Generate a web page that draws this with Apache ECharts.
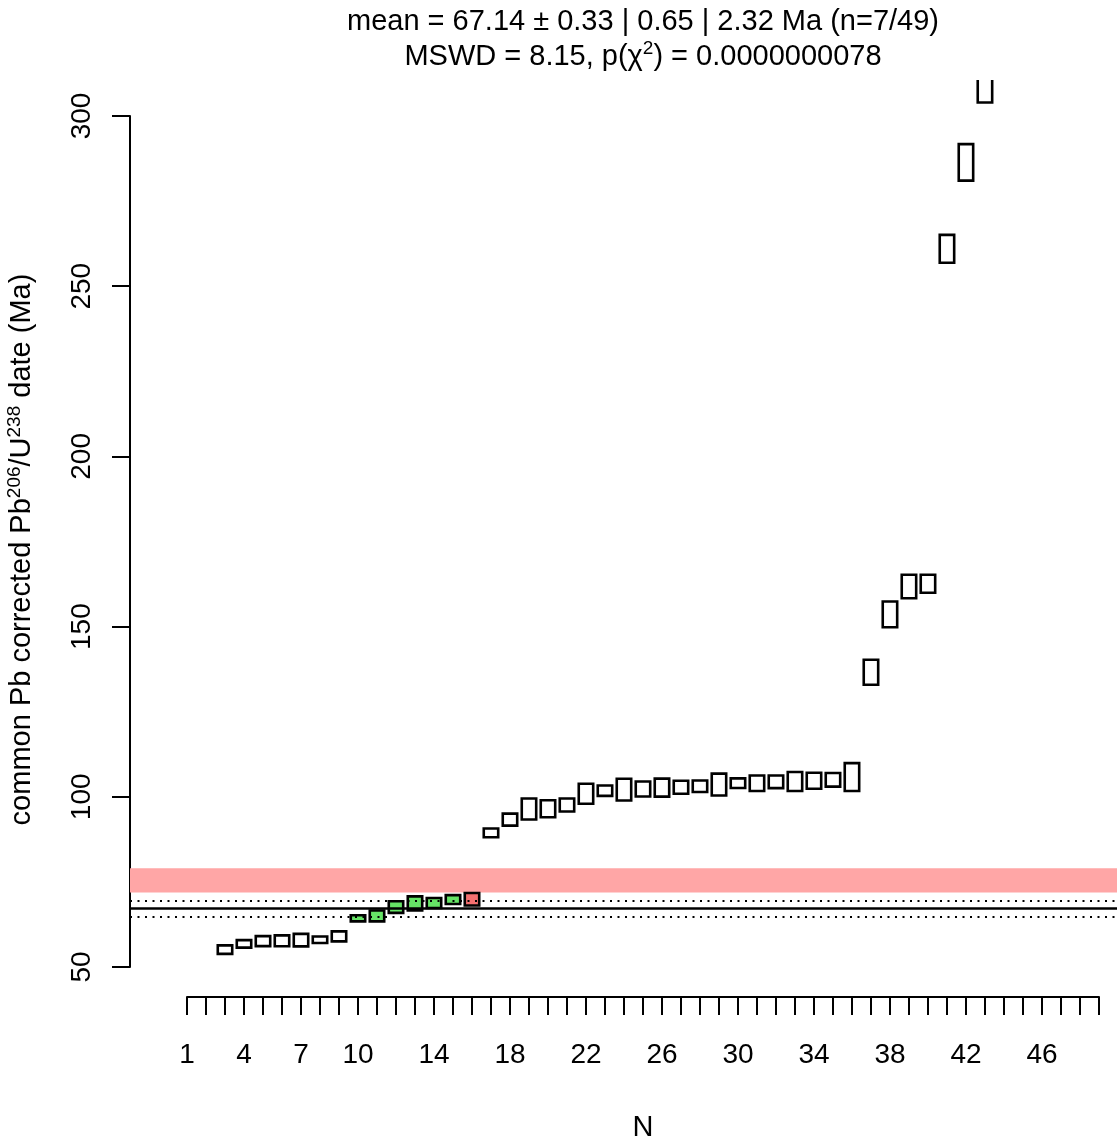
<!DOCTYPE html>
<html>
<head>
<meta charset="utf-8">
<script src="https://cdn.jsdelivr.net/npm/echarts@6/dist/echarts.min.js"></script>
<style>
html,body{margin:0;padding:0;background:#fff;}
#c{width:1117px;height:1143px;}
</style>
</head>
<body>
<div id="c"></div>
<script>
// ---- data ----
const aliquot = [3,4,5,6,7,8,9,10,11,12,13,14,15,16,17,18,19,20,21,22,23,24,25,26,27,28,29,30,31,32,33,34,35,36,37,38,39,40,41,42,43];
const dates = [55.1,56.8,57.6,57.7,57.9,58.0,59.0,64.3,65.0,67.6,68.7,68.8,69.8,69.9,
  89.4,93.3,96.4,96.5,97.6,100.9,101.8,102.1,102.3,102.7,102.8,103.1,103.6,104.0,104.0,104.4,104.5,104.7,105.0,105.8,
  136.6,153.6,161.8,162.6,261.0,286.4,312.0];
const errors = [1.25,1.1,1.47,1.6,1.84,0.95,1.47,0.9,1.6,1.7,2.06,1.47,1.3,1.84,
  1.3,1.76,3.08,2.5,1.9,2.94,1.54,3.2,2.2,2.64,1.9,1.7,3.2,1.4,2.28,1.84,2.8,2.35,2.0,4.1,
  3.67,3.8,3.45,2.64,4.1,5.36,8.0];
const acceptedIdx = [10,11,12,13,14,15];
const rejectedIdx = [16];
const meanAge = 67.14;
const meanErr = 2.32;
const bandLow = 71.9, bandHigh = 79.0;
const yTicks = [50,100,150,200,250,300];
const xTickLabels = [1,4,7,10,14,18,22,26,30,34,38,42,46];
const nTotal = 49;

const FONT = "'Liberation Sans', Arial, sans-serif";
const boxData = aliquot.map((a,i) => [a, dates[i], errors[i],
  acceptedIdx.includes(a) ? 1 : (rejectedIdx.includes(a) ? 2 : 0)]);

const chart = echarts.init(document.getElementById('c'), null, {renderer:'canvas'});
const option = {
  animation: false,
  backgroundColor: '#fff',
  grid: [
    {left:130, right:0, top:80, bottom:143},
    {left:130, width:10, top:116, bottom:176},
    {left:187, right:18, bottom:143, height:10}
  ],
  xAxis: [
    {gridIndex:0, type:'value', min:-2, max:49.95, show:false},
    {gridIndex:1, type:'value', min:0, max:1, show:false},
    {gridIndex:2, type:'value', min:1, max:nTotal, interval:1,
     axisLine:{show:true, lineStyle:{color:'#000', width:2}},
     axisTick:{show:true, length:18, lineStyle:{color:'#000', width:2}},
     splitLine:{show:false},
     axisLabel:{color:'#000', fontSize:28, fontFamily:FONT, margin:44,
       formatter: v => xTickLabels.includes(v) ? String(v) : ''},
     name:'N', nameLocation:'middle', nameGap:116,
     nameTextStyle:{color:'#000', fontSize:29, fontFamily:FONT}}
  ],
  yAxis: [
    {gridIndex:0, type:'value', min:40.3, max:310.6, show:false},
    {gridIndex:1, type:'value', min:yTicks[0], max:yTicks[yTicks.length-1], interval:50,
     axisLine:{show:true, lineStyle:{color:'#000', width:2}},
     axisTick:{show:true, length:18, lineStyle:{color:'#000', width:2}},
     splitLine:{show:false},
     axisLabel:{color:'#000', fontSize:28, fontFamily:FONT, rotate:90, margin:34},
     name:'common Pb corrected Pb{sup|206}/U{sup|238} date (Ma)',
     nameLocation:'middle', nameGap:92,
     nameTextStyle:{color:'#000', fontSize:29, fontFamily:FONT, lineHeight:33, padding:[0,16,0,0],
       rich:{sup:{fontSize:19, fontFamily:FONT, color:'#000', verticalAlign:'top', lineHeight:19}}}},
    {gridIndex:2, type:'value', min:0, max:1, show:false}
  ],
  graphic: [
    {type:'text', x:643, y:22, style:{text:'mean = 67.14 ± 0.33 | 0.65 | 2.32 Ma (n=7/49)',
      fontSize:29, fontFamily:FONT, fill:'#000', textAlign:'center', textVerticalAlign:'middle', align:'center', verticalAlign:'middle'}},
    {type:'text', x:643, y:57, style:{text:'MSWD = 8.15, p(χ{sup|2}) = 0.0000000078',
      fontSize:29, fontFamily:FONT, fill:'#000', textAlign:'center', textVerticalAlign:'middle', align:'center', verticalAlign:'middle',
      lineHeight:36, rich:{sup:{fontSize:19, fontFamily:FONT, fill:'#000', verticalAlign:'top', lineHeight:19}}}}
  ],
  series: [
    {type:'line', xAxisIndex:0, yAxisIndex:0, data:[], z:1, silent:true,
     markArea:{silent:true, itemStyle:{color:'#ffa6a6', opacity:1},
       data:[[{yAxis:bandLow},{yAxis:bandHigh}]]}},
    {type:'custom', xAxisIndex:0, yAxisIndex:0, z:2, clip:true,
     data: boxData,
     renderItem: function(params, api){
       const x = api.value(0), v = api.value(1), e = api.value(2), s = api.value(3);
       const p1 = api.coord([x-0.38, v+e]);
       const p2 = api.coord([x+0.38, v-e]);
       const fill = s === 1 ? '#66e466' : (s === 2 ? '#f47070' : 'rgba(0,0,0,0)');
       return {type:'rect', shape:{x:p1[0], y:p1[1], width:p2[0]-p1[0], height:p2[1]-p1[1]},
         style:{fill:fill, stroke:'#000', lineWidth:2.6}};
     }},
    {type:'line', xAxisIndex:0, yAxisIndex:0, data:[], z:3, silent:true,
     markLine:{silent:true, symbol:['none','none'], label:{show:false},
       data:[
         {yAxis:meanAge, lineStyle:{color:'#000', width:2.5, type:'solid'}},
         {yAxis:meanAge+meanErr, lineStyle:{color:'#000', width:2.2, type:[2,5.5]}},
         {yAxis:meanAge-meanErr, lineStyle:{color:'#000', width:2.2, type:[2,5.5]}}
       ]}}
  ]
};
chart.setOption(option);
</script>
</body>
</html>
